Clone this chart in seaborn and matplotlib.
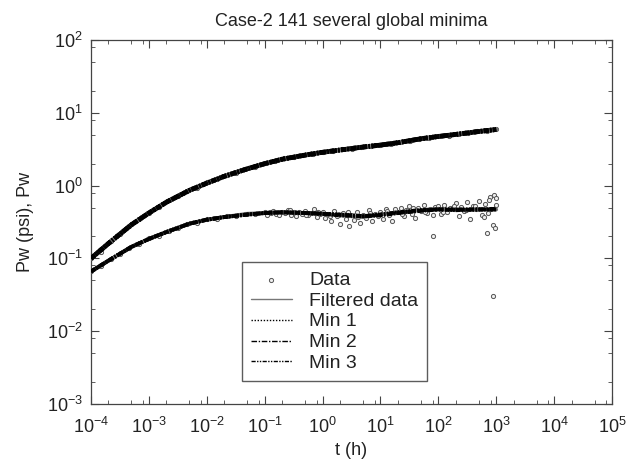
import numpy as np
import matplotlib
matplotlib.use("Agg")
import matplotlib.pyplot as plt
import seaborn as sns
from matplotlib.ticker import LogLocator, NullFormatter

# times of the fitted / filtered curves (h)
t_fit = [1e-4, 2e-4, 5e-4, 1e-3, 2e-3, 5e-3, 1e-2, 2e-2, 5e-2, 0.1, 0.2, 0.5,
         1, 2, 5, 10, 20, 50, 100, 200, 500, 1000]

# pressure change (upper curve)
p_filt = [0.10, 0.16, 0.29, 0.42, 0.59, 0.86, 1.08, 1.34, 1.70, 2.0, 2.30, 2.63,
          2.87, 3.08, 3.39, 3.60, 3.88, 4.40, 4.73, 5.05, 5.54, 5.90]
p_min1 = [0.10, 0.16, 0.29, 0.42, 0.59, 0.86, 1.08, 1.34, 1.70, 2.0, 2.30, 2.63,
          2.87, 3.08, 3.39, 3.60, 3.88, 4.40, 4.73, 5.05, 5.54, 5.90]
p_min2 = [0.10, 0.16, 0.29, 0.42, 0.59, 0.86, 1.08, 1.34, 1.70, 2.0, 2.30, 2.62,
          2.86, 3.08, 3.38, 3.60, 3.89, 4.41, 4.74, 5.06, 5.55, 5.91]
p_min3 = [0.10, 0.16, 0.29, 0.42, 0.59, 0.86, 1.08, 1.34, 1.70, 2.0, 2.31, 2.63,
          2.87, 3.09, 3.39, 3.61, 3.88, 4.40, 4.72, 5.04, 5.53, 5.89]

# derivative (lower curve)
d_filt = [0.066, 0.093, 0.144, 0.185, 0.23, 0.30, 0.34, 0.37, 0.41, 0.42, 0.43, 0.42,
          0.41, 0.39, 0.37, 0.40, 0.43, 0.46, 0.48, 0.46, 0.47, 0.47]
d_min1 = [0.066, 0.093, 0.144, 0.185, 0.23, 0.30, 0.34, 0.37, 0.40, 0.42, 0.43, 0.42,
          0.41, 0.40, 0.38, 0.40, 0.42, 0.46, 0.47, 0.47, 0.47, 0.47]
d_min2 = [0.066, 0.093, 0.144, 0.185, 0.23, 0.30, 0.34, 0.37, 0.40, 0.42, 0.43, 0.42,
          0.41, 0.40, 0.38, 0.39, 0.42, 0.45, 0.47, 0.47, 0.47, 0.48]
d_min3 = [0.066, 0.093, 0.144, 0.185, 0.23, 0.30, 0.34, 0.37, 0.40, 0.42, 0.43, 0.42,
          0.41, 0.39, 0.38, 0.40, 0.43, 0.46, 0.47, 0.46, 0.47, 0.47]

# measured pressure points
t_pdata = [1e-4, 1.5e-4, 2.2e-4, 3.2e-4, 4.6e-4, 6.8e-4,
           1e-3, 1.5e-3, 2.2e-3, 3.2e-3, 4.6e-3, 6.8e-3,
           1e-2, 1.5e-2, 2.2e-2, 3.2e-2, 4.6e-2, 6.8e-2,
           0.1, 0.15, 0.22, 0.32, 0.46, 0.68,
           1, 1.5, 2.2, 3.2, 4.6, 6.8,
           10, 15, 22, 32, 46, 68,
           100, 150, 220, 320, 460, 680, 1000]
p_data = [0.101, 0.124, 0.172, 0.218, 0.283, 0.347, 0.425, 0.515, 0.627, 0.713, 0.838,
          0.932, 1.11, 1.22, 1.39, 1.51, 1.68, 1.81, 2.02, 2.15, 2.36, 2.46, 2.63,
          2.72, 2.90, 2.95, 3.15, 3.22, 3.41, 3.45, 3.64, 3.72, 3.99, 4.11, 4.39,
          4.48, 4.80, 4.85, 5.16, 5.24, 5.57, 5.63, 5.96]

# measured derivative points
t_ddata = [1e-4, 1.5e-4, 2.2e-4, 3.2e-4, 4.6e-4, 6.8e-4,
           1e-3, 1.5e-3, 2.2e-3, 3.2e-3, 4.6e-3, 6.8e-3,
           1e-2, 1.5e-2, 2.2e-2, 3.2e-2, 4.6e-2, 6.8e-2,
           0.1, 0.112, 0.126, 0.141, 0.158, 0.178, 0.2, 0.224, 0.251, 0.282,
           0.316, 0.355, 0.398, 0.447, 0.501, 0.562, 0.631, 0.708, 0.794, 0.891,
           1, 1.12, 1.26, 1.41, 1.58, 1.78, 2.0, 2.24, 2.51, 2.82,
           3.16, 3.55, 3.98, 4.47, 5.01, 5.62, 6.31, 7.08, 7.94, 8.91,
           10, 11.2, 12.6, 14.1, 15.8, 17.8, 20, 22.4, 25.1, 28.2,
           31.6, 35.5, 39.8, 44.7, 50.1, 56.2, 63.1, 70.8, 79.4, 89.1,
           100, 112, 126, 141, 158, 178, 200, 224, 251, 282,
           316, 355, 398, 447, 501, 562, 631, 708, 794, 891,
           1000, 880, 930, 960, 990, 700, 760, 80, 0.13, 0.27,
           0.52, 0.85, 1.35, 2.7, 4.1, 6.6, 13, 24, 37, 59,
           120, 190, 300, 430, 610, 820]
d_data = [0.067, 0.079, 0.099, 0.116, 0.140, 0.157, 0.188, 0.206, 0.240, 0.259, 0.296,
          0.309, 0.347, 0.350, 0.378, 0.379, 0.409, 0.404,
          0.44, 0.40, 0.43, 0.45, 0.41, 0.39, 0.44, 0.42, 0.46, 0.40,
          0.43, 0.38, 0.44, 0.41, 0.45, 0.39, 0.42, 0.47, 0.37, 0.41,
          0.43, 0.36, 0.41, 0.33, 0.45, 0.38, 0.30, 0.42, 0.35, 0.28,
          0.40, 0.34, 0.44, 0.31, 0.39, 0.36, 0.46, 0.33, 0.41, 0.38,
          0.44, 0.35, 0.48, 0.40, 0.33, 0.47, 0.43, 0.50, 0.38, 0.46,
          0.52, 0.41, 0.36, 0.49, 0.45, 0.54, 0.42, 0.48, 0.39, 0.51,
          0.52, 0.41, 0.55, 0.44, 0.49, 0.49, 0.58, 0.38, 0.51, 0.45,
          0.60, 0.35, 0.53, 0.47, 0.62, 0.40, 0.56, 0.42, 0.70, 0.29,
          0.55, 0.030, 0.75, 0.26, 0.68, 0.22, 0.64, 0.20, 0.42, 0.46,
          0.40, 0.44, 0.38, 0.43, 0.37, 0.42, 0.45, 0.41, 0.50, 0.44,
          0.43, 0.53, 0.46, 0.52, 0.37, 0.47]

sns.set_theme(style="ticks")
plt.rcParams["font.family"] = ["Liberation Sans", "DejaVu Sans"]
plt.rcParams["mathtext.default"] = "regular"
plt.rcParams["axes.unicode_minus"] = False
plt.rcParams["lines.scale_dashes"] = False

txt = "#222222"
fig = plt.figure(figsize=(6.3, 4.71), dpi=100)
ax = fig.add_axes([0.1444, 0.1423, 0.827, 0.7727])

# data markers
for tt, vv, lab in [(t_pdata, p_data, None), (t_ddata, d_data, "Data")]:
    sns.scatterplot(x=tt, y=vv, ax=ax, marker="o", s=9, facecolor="#eeeeee",
                    edgecolor="#555555", linewidth=0.7, label=lab, zorder=2)

# filtered data and the three minima
styles = [("Filtered data", p_filt, d_filt, "-", "#777777"),
          ("Min 1", p_min1, d_min1, (0, (1, 1.2)), "black"),
          ("Min 2", p_min2, d_min2, (0, (4, 1.2, 1, 1.2)), "black"),
          ("Min 3", p_min3, d_min3, (0, (3, 1, 1, 1, 1, 1)), "black")]
for lab, pv, dv, ls, col in styles:
    sns.lineplot(x=t_fit, y=pv, ax=ax, color=col, linestyle=ls, linewidth=3.4,
                 zorder=3, label=None)
    sns.lineplot(x=t_fit, y=dv, ax=ax, color=col, linestyle=ls, linewidth=2.8,
                 zorder=3, label=lab)

ax.set_xscale("log")
ax.set_yscale("log")
ax.set_xlim(1e-4, 1e5)
ax.set_ylim(1e-3, 1e2)
ax.xaxis.set_major_locator(LogLocator(base=10, numticks=20))
ax.yaxis.set_major_locator(LogLocator(base=10, numticks=20))
ax.xaxis.set_minor_locator(LogLocator(base=10, subs=[2, 5, 8], numticks=20))
ax.yaxis.set_minor_locator(LogLocator(base=10, subs=[2, 5, 8], numticks=20))
ax.xaxis.set_minor_formatter(NullFormatter())
ax.yaxis.set_minor_formatter(NullFormatter())
ax.tick_params(which="both", direction="in", top=True, right=True,
               colors="#444444", labelcolor=txt, labelsize=13)
ax.tick_params(which="major", length=6, width=0.8)
ax.tick_params(axis="x", which="major", pad=9)
ax.tick_params(axis="y", which="major", pad=6)
ax.tick_params(which="minor", length=3, width=0.6)
for sp in ax.spines.values():
    sp.set_color("#444444")
    sp.set_linewidth(0.9)

ax.set_xlabel("t (h)", fontsize=13, color=txt, labelpad=4)
ax.set_ylabel("Pw (psi), Pw", fontsize=13, color=txt, labelpad=9)
ax.set_title("Case-2 141 several global minima", fontsize=13, color=txt, pad=10)

leg = ax.legend(loc="lower left", bbox_to_anchor=(0.29, 0.063), fontsize=14,
                frameon=True, fancybox=False, edgecolor="#333333",
                handlelength=2.1, borderpad=0.45, labelspacing=0.17,
                handletextpad=0.9, borderaxespad=0)
leg.get_frame().set_linewidth(1.0)
for ln in leg.get_lines():
    ln.set_linewidth(1.0)
for tx in leg.get_texts():
    tx.set_color(txt)

fig.savefig("out.png", dpi=100)
